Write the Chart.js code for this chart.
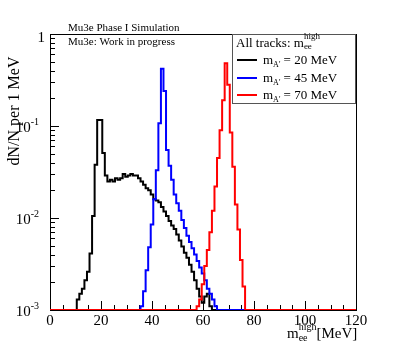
<!DOCTYPE html>
<html>
<head>
<meta charset="utf-8">
<script src="https://cdn.jsdelivr.net/npm/chart.js@4.4.1/dist/chart.umd.min.js"></script>
<style>
  html, body { margin: 0; padding: 0; background: #fff; }
  canvas { display: block; }
</style>
</head>
<body>
<canvas id="chart" width="395" height="345"></canvas>
<script>
// Histogram contents, 1 MeV bins, bin centre = MeV value (first bin given by *First)
var FLOOR = 0.001;  // empty bins sit on the axis minimum
var xTickValues = [0, 20, 40, 60, 80, 100, 120];
var yTickExponents = [0, -1, -2, -3];

var black20First = 11;
var black20 = [0.0013, 0.0015, 0.0017, 0.0021, 0.0026, 0.0041, 0.0105, 0.038, 0.116, 0.116,
  0.051, 0.029, 0.025, 0.026, 0.025, 0.027, 0.026, 0.027, 0.030, 0.028,
  0.029, 0.030, 0.029, 0.029, 0.027, 0.025, 0.023, 0.021, 0.020, 0.018,
  0.016, 0.0155, 0.0148, 0.0132, 0.0118, 0.0105, 0.0093, 0.0083, 0.0076, 0.0066,
  0.0057, 0.0049, 0.0042, 0.0037, 0.0031, 0.0026, 0.0021, 0.0017, 0.0014, 0.0012,
  0.0014, 0.0015, 0.0011, 0.0010];

var blue45First = 36;
var blue45 = [0.0011, 0.0016, 0.0027, 0.0048, 0.0085, 0.016, 0.033, 0.107, 0.42, 0.24,
  0.055, 0.037, 0.026, 0.018, 0.0145, 0.012, 0.0095, 0.0078, 0.0064, 0.0055,
  0.0047, 0.0040, 0.0034, 0.0029, 0.0025, 0.0021, 0.0017, 0.0015, 0.0013, 0.0011];

var red70First = 58;
var red70 = [0.0011, 0.0013, 0.0019, 0.0030, 0.0045, 0.0070, 0.012, 0.022, 0.045, 0.09,
  0.19, 0.48, 0.28, 0.085, 0.036, 0.014, 0.0075, 0.0035, 0.0018];

var legendLabels = ['20 MeV', '45 MeV', '70 MeV'];
var colors = { black: '#000000', blue: '#0000ff', red: '#ff0000' };

var SERIF = '"Liberation Serif", "DejaVu Serif", serif';

// expand a list of filled bins into 0..120 MeV, empty bins on the floor
function toHisto(first, values) {
  var pts = [];
  for (var k = 0; k <= 120; k++) {
    var v = (k >= first && k < first + values.length) ? values[k - first] : FLOOR;
    pts.push({ x: k, y: v });
  }
  return pts;
}

// draw a run of text pieces [{t, size, dy}] starting at x (or ending at x)
function drawParts(ctx, parts, x, y, alignRight) {
  var w = 0;
  parts.forEach(function(p) {
    ctx.font = p.size + 'px ' + SERIF;
    p.w = ctx.measureText(p.t).width;
    w += p.w;
  });
  var cx = alignRight ? x - w : x;
  ctx.textAlign = 'left';
  ctx.textBaseline = 'alphabetic';
  parts.forEach(function(p) {
    ctx.font = p.size + 'px ' + SERIF;
    ctx.fillText(p.t, cx, y + (p.dy || 0));
    cx += p.w;
  });
  return cx;
}

var rootAxes = {
  id: 'rootAxes',
  beforeDatasetsDraw: function(chart) {
    var ctx = chart.ctx, a = chart.chartArea;
    var xs = chart.scales.x, ys = chart.scales.y;
    ctx.save();
    ctx.strokeStyle = '#000';
    ctx.lineWidth = 1;
    ctx.strokeRect(Math.round(a.left) + 0.5, Math.round(a.top) + 0.5,
      Math.round(a.right - a.left), Math.round(a.bottom - a.top));
    ctx.beginPath();
    // x ticks, inside the frame
    for (var m = 0; m <= 120; m += 5) {
      var px = Math.round(xs.getPixelForValue(m)) + 0.5;
      var len = (m % 20 === 0) ? 9 : 5;
      ctx.moveTo(px, a.bottom);
      ctx.lineTo(px, a.bottom - len);
    }
    // y ticks, log decades with minors
    for (var e = -3; e <= 0; e++) {
      for (var d = 1; d <= 9; d++) {
        var val = d * Math.pow(10, e);
        if (val > 1.0001) break;
        var py = Math.round(ys.getPixelForValue(val)) + 0.5;
        var l = (d === 1) ? 9 : 5;
        ctx.moveTo(a.left, py);
        ctx.lineTo(a.left + l, py);
      }
    }
    ctx.stroke();
    ctx.restore();
  },
  afterDraw: function(chart) {
    var ctx = chart.ctx;
    var xs = chart.scales.x, ys = chart.scales.y;
    ctx.save();
    ctx.fillStyle = '#000';

    // x tick labels
    ctx.font = '15px ' + SERIF;
    ctx.textAlign = 'center';
    ctx.textBaseline = 'alphabetic';
    xTickValues.forEach(function(v) {
      ctx.fillText(String(v), xs.getPixelForValue(v), 325);
    });

    // y tick labels
    yTickExponents.forEach(function(e) {
      var py = ys.getPixelForValue(Math.pow(10, e));
      if (e === 0) {
        drawParts(ctx, [{ t: '1', size: 15 }], 45, py + 8, true);
      } else {
        drawParts(ctx, [{ t: '10', size: 15 }, { t: '-' + (-e), size: 10, dy: -7 }], 39, py + 6, true);
      }
    });

    // y title
    ctx.save();
    ctx.translate(19, 111);
    ctx.rotate(-Math.PI / 2);
    ctx.font = '16px ' + SERIF;
    ctx.textAlign = 'center';
    ctx.fillText('dN/N per 1 MeV', 0, 0);
    ctx.restore();

    // x title m_ee^high [MeV]
    var xx = drawParts(ctx, [{ t: 'm', size: 15 }], 287, 338, false);
    ctx.font = '10px ' + SERIF;
    ctx.fillText('high', xx, 330);
    ctx.fillText('ee', xx, 341);
    drawParts(ctx, [{ t: '[MeV]', size: 15 }], xx + ctx.measureText('high').width, 338, false);

    // header texts
    ctx.font = '11px ' + SERIF;
    ctx.textAlign = 'left';
    ctx.fillText('Mu3e Phase I Simulation', 68, 31);
    ctx.fillText('Mu3e: Work in progress', 68, 45);

    // legend box
    ctx.fillStyle = '#fff';
    ctx.fillRect(232, 34, 123, 69);
    ctx.strokeStyle = '#555';
    ctx.lineWidth = 1;
    ctx.strokeRect(232.5, 34.5, 123, 69);
    ctx.fillStyle = '#000';
    var hx = drawParts(ctx, [{ t: 'All tracks: m', size: 13 }], 236, 47, false);
    ctx.font = '9px ' + SERIF;
    ctx.fillText('high', hx, 39);
    ctx.fillText('ee', hx, 49);

    var entryY = [60, 78, 95];
    var entryColors = [colors.black, colors.blue, colors.red];
    legendLabels.forEach(function(lab, i) {
      ctx.strokeStyle = entryColors[i];
      ctx.lineWidth = 2;
      ctx.beginPath();
      ctx.moveTo(237, entryY[i]);
      ctx.lineTo(257, entryY[i]);
      ctx.stroke();
      drawParts(ctx, [
        { t: 'm', size: 13 },
        { t: "A'", size: 8, dy: 3 },
        { t: ' = ' + lab, size: 13 }
      ], 263, entryY[i] + 4, false);
    });
    ctx.restore();
  }
};

function dataset(label, first, values, color, order) {
  return {
    label: label,
    data: toHisto(first, values),
    borderColor: color,
    backgroundColor: color,
    borderWidth: 2,
    stepped: 'middle',
    pointRadius: 0,
    fill: false,
    order: order
  };
}

new Chart(document.getElementById('chart').getContext('2d'), {
  type: 'line',
  data: {
    datasets: [
      dataset("m_A' = 20 MeV", black20First, black20, colors.black, 3),
      dataset("m_A' = 45 MeV", blue45First, blue45, colors.blue, 2),
      dataset("m_A' = 70 MeV", red70First, red70, colors.red, 1)
    ]
  },
  options: {
    responsive: false,
    animation: false,
    devicePixelRatio: 1,
    layout: { padding: { left: 50, top: 34, right: 39, bottom: 35 } },
    plugins: { legend: { display: false }, tooltip: { enabled: false } },
    scales: {
      x: { type: 'linear', min: 0, max: 120, display: false },
      y: { type: 'logarithmic', min: 0.001, max: 1, display: false }
    }
  },
  plugins: [rootAxes]
});
</script>
</body>
</html>
